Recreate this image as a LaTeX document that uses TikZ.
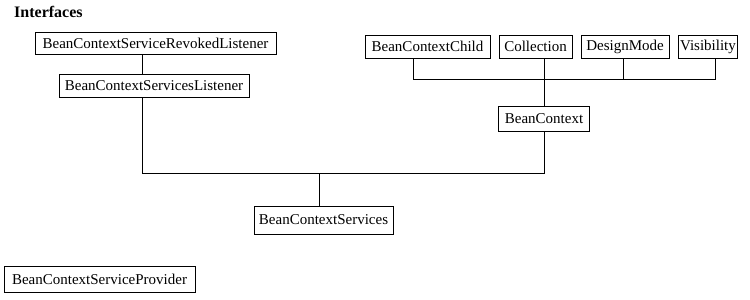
\documentclass[tikz,border=0pt]{standalone}
\usepackage{fontspec}
\setmainfont{Liberation Serif}
\begin{document}
\begin{tikzpicture}[x=1pt,y=-1pt,
  box/.style={draw=black,line width=0.9pt,inner sep=0pt,font=\fontsize{15}{17}\selectfont,text=black},
  conn/.style={draw=black,line width=0.9pt}]
\useasboundingbox[fill=white] (0,0) rectangle (750,300);
\node[anchor=base west,inner sep=0pt,font=\bfseries\fontsize{16}{18}\selectfont] (title) at (14,17.5) {Interfaces};
\node[box,minimum width=241,minimum height=22] (R) at (155.5,43) {BeanContextServiceRevokedListener};
\node[box,minimum width=190,minimum height=23] (L) at (154,85.5) {BeanContextServicesListener};
\node[box,minimum width=125,minimum height=23] (BCC) at (427.5,46.5) {BeanContextChild};
\node[box,minimum width=73,minimum height=23] (COL) at (535.5,46.5) {Collection};
\node[box,minimum width=88,minimum height=23] (DM) at (625,46.5) {DesignMode};
\node[box,minimum width=59,minimum height=23] (VIS) at (708,46.5) {Visibility};
\node[box,minimum width=91,minimum height=25] (BC) at (544,118.5) {BeanContext};
\node[box,minimum width=139,minimum height=28] (BCS) at (323.5,220) {BeanContextServices};
\node[box,minimum width=191,minimum height=26] (P) at (99.5,279) {BeanContextServiceProvider};
\coordinate (jl) at (142,173);
\coordinate (jr) at (544,173);
\coordinate (jb) at (319,173);
\coordinate (t1) at (413,79);
\coordinate (t2) at (544,79);
\coordinate (t3) at (623,79);
\coordinate (t4) at (715,79);
\draw[conn] (R.south -| jl) -- (L.north -| jl);
\draw[conn] (L.south -| jl) -- (jl) -- (jr) -- (BC.south);
\draw[conn] (jb) -- (BCS.north -| jb);
\draw[conn] (BCC.south -| t1) -- (t1) -- (t4) -- (VIS.south -| t4);
\draw[conn] (COL.south -| t2) -- (BC.north);
\draw[conn] (DM.south -| t3) -- (t3);
\end{tikzpicture}
\end{document}
